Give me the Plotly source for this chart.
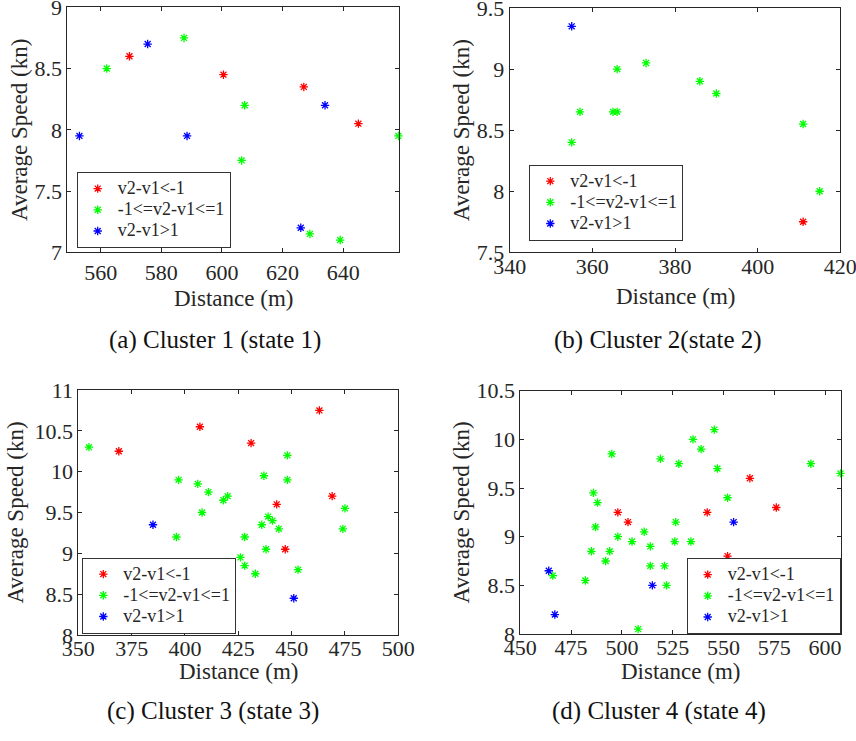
import plotly.graph_objects as go

# ---------------- data: distance (m) and average speed (kn) per cluster ----------------
# Cluster 1 (state 1)
c1_dec_dist = [569.5, 600.5, 627, 645]
c1_dec_speed = [8.6, 8.45, 8.35, 8.05]
c1_mid_dist = [562, 587.5, 607.5, 606.5, 658.2, 629, 639]
c1_mid_speed = [8.5, 8.75, 8.2, 7.75, 7.95, 7.15, 7.1]
c1_inc_dist = [553, 575.5, 588.5, 634, 626]
c1_inc_speed = [7.95, 8.7, 7.95, 8.2, 7.2]

# Cluster 2 (state 2)
c2_dec_dist = [411]
c2_dec_speed = [7.75]
c2_mid_dist = [355, 357, 365, 366, 366, 373, 386, 390, 411, 415]
c2_mid_speed = [8.4, 8.65, 8.65, 8.65, 9.0, 9.05, 8.9, 8.8, 8.55, 8.0]
c2_inc_dist = [355]
c2_inc_speed = [9.35]

# Cluster 3 (state 3)
c3_dec_dist = [369, 407, 431, 463, 469, 443, 447]
c3_dec_speed = [10.25, 10.55, 10.35, 10.75, 9.7, 9.6, 9.05]
c3_mid_dist = [355, 397, 406, 411, 418, 420, 408, 396, 437, 448, 448, 439,
               441, 436, 444, 428, 438, 426, 428, 433, 453, 475, 474]
c3_mid_speed = [10.3, 9.9, 9.85, 9.75, 9.65, 9.7, 9.5, 9.2, 9.95, 10.2, 9.9, 9.45,
                9.4, 9.35, 9.3, 9.2, 9.05, 8.95, 8.85, 8.75, 8.8, 9.55, 9.3]
c3_inc_dist = [385, 451]
c3_inc_speed = [9.35, 8.45]

# Cluster 4 (state 4)
c4_dec_dist = [498, 503, 542, 563, 576, 552]
c4_dec_speed = [9.25, 9.15, 9.25, 9.6, 9.3, 8.8]
c4_mid_dist = [486, 488, 487, 495, 498, 485, 494, 492, 505, 482, 466, 508, 511,
               514, 514, 521, 522, 519, 528, 526.5, 526, 534, 535, 539, 545.5,
               547, 552, 540, 593, 607.6]
c4_mid_speed = [9.45, 9.35, 9.1, 9.85, 9.0, 8.85, 8.85, 8.75, 8.95, 8.55, 8.6, 8.05, 9.05,
                8.9, 8.7, 8.7, 8.5, 9.8, 9.75, 9.15, 8.95, 8.95, 10.0, 9.9, 10.1,
                9.7, 9.4, 8.7, 9.75, 9.65]
c4_inc_dist = [464, 467, 515, 555]
c4_inc_speed = [8.65, 8.2, 8.5, 9.15]

series_names = ["v2-v1<-1", "-1<=v2-v1<=1", "v2-v1>1"]
series_colors = ["#ff0000", "#00ff00", "#0000ff"]

captions = ["(a) Cluster 1 (state 1)", "(b) Cluster 2(state 2)",
            "(c) Cluster 3 (state 3)", "(d) Cluster 4 (state 4)"]
x_title = "Distance (m)"
y_title = "Average Speed (kn)"

panels = [
    [(c1_dec_dist, c1_dec_speed), (c1_mid_dist, c1_mid_speed), (c1_inc_dist, c1_inc_speed)],
    [(c2_dec_dist, c2_dec_speed), (c2_mid_dist, c2_mid_speed), (c2_inc_dist, c2_inc_speed)],
    [(c3_dec_dist, c3_dec_speed), (c3_mid_dist, c3_mid_speed), (c3_inc_dist, c3_inc_speed)],
    [(c4_dec_dist, c4_dec_speed), (c4_mid_dist, c4_mid_speed), (c4_inc_dist, c4_inc_speed)],
]

# ---------------- layout geometry (pixels) ----------------
W, H = 856, 741
# plot boxes: left, right, top, bottom
boxes = [
    (67.3, 398.7, 7.3, 252.3),
    (509.7, 840.3, 8.0, 252.3),
    (78.3, 398.3, 390.0, 635.0),
    (520.3, 840.7, 390.7, 634.0),
]
x_ranges = [[549, 658.3], [340, 420], [350, 500], [450, 607.7]]
y_ranges = [[7, 9], [7.5, 9.5], [8, 11], [8, 10.5]]
x_dticks = [20, 20, 25, 25]
y_dticks = [0.5, 0.5, 0.5, 0.5]
x_label_gap = [0, -6, -6, -6]
y_title_gap = [0, 0, 4, 0]
x_title_y = [299, 296, 671, 671]
caption_pos = [(215, 340), (658, 340), (213, 711), (659, 711)]

FONT = "Liberation Serif"
AX = "#262626"
LEGEND_TEXT = '<span style="font-size:18px">{}</span>'

fig = go.Figure()
layout = dict(
    template="none",
    width=W, height=H,
    margin=dict(l=0, r=0, t=0, b=0, autoexpand=False),
    paper_bgcolor="white", plot_bgcolor="white",
    font=dict(family=FONT, size=22, color=AX),
    showlegend=True,
)

legend_specs = [
    dict(x=76.7 / W, y=1 - 172.0 / H, xanchor="left", yanchor="top"),
    dict(x=529.3 / W, y=1 - 164.5 / H, xanchor="left", yanchor="top"),
    dict(x=82.3 / W, y=1 - 557.5 / H, xanchor="left", yanchor="top"),
    dict(x=840.7 / W, y=1 - 634.0 / H, xanchor="right", yanchor="bottom"),
]

annotations = []
for i, (series, box) in enumerate(zip(panels, boxes)):
    n = i + 1
    xa = "x" if n == 1 else f"x{n}"
    ya = "y" if n == 1 else f"y{n}"
    lg = "legend" if n == 1 else f"legend{n}"
    for (xs, ys), name, col in zip(series, series_names, series_colors):
        fig.add_trace(go.Scatter(
            x=xs, y=ys, mode="markers", name=LEGEND_TEXT.format(name),
            xaxis=xa, yaxis=ya, legend=lg, cliponaxis=False,
            marker=dict(symbol="asterisk-open", size=7, color=col,
                        line=dict(color=col, width=1.3)),
        ))
    l, r, t, b = box
    axis_common = dict(
        automargin=False, ticklabeloverflow="allow",
        showgrid=False, zeroline=False, showline=True, linecolor=AX, linewidth=1,
        mirror="ticks", ticks="inside", ticklen=4, tickwidth=1, tickcolor=AX,
        tickfont=dict(family=FONT, size=22, color=AX),
    )
    layout["xaxis" if n == 1 else f"xaxis{n}"] = dict(
        domain=[l / W, r / W], anchor=ya, range=x_ranges[i],
        tick0=0, dtick=x_dticks[i], ticklabelstandoff=x_label_gap[i],
        **axis_common,
    )
    layout["yaxis" if n == 1 else f"yaxis{n}"] = dict(
        domain=[1 - b / H, 1 - t / H], anchor=xa, range=y_ranges[i],
        tick0=0, dtick=y_dticks[i],
        title=dict(text=y_title, font=dict(family=FONT, size=23, color=AX),
                   standoff=y_title_gap[i]),
        **axis_common,
    )
    layout[lg] = dict(
        **legend_specs[i],
        bgcolor="white", bordercolor="#333333", borderwidth=1,
        font=dict(family=FONT, size=14, color=AX),
        tracegroupgap=0, itemclick=False,
    )
    # x-axis title, centred under the plot box
    annotations.append(dict(
        text=x_title, x=(l + r) / 2 / W, y=1 - x_title_y[i] / H,
        xref="paper", yref="paper", xanchor="center", yanchor="middle",
        showarrow=False, font=dict(family=FONT, size=23, color=AX),
    ))
    cx, cy = caption_pos[i]
    annotations.append(dict(
        text=captions[i], x=cx / W, y=1 - cy / H, xref="paper", yref="paper",
        xanchor="center", yanchor="middle", showarrow=False,
        font=dict(family=FONT, size=25, color="#111111"),
    ))

layout["annotations"] = annotations
fig.update_layout(**layout)
fig.write_html("out.html")
